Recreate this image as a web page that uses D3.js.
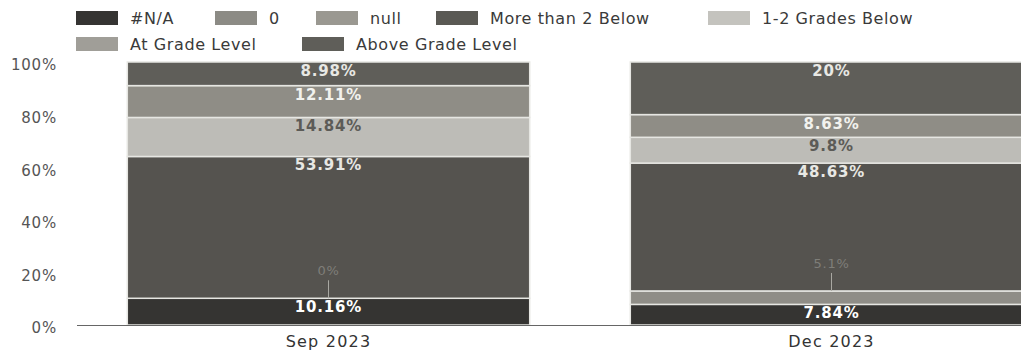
<!doctype html>
<html lang="en">
<head>
<meta charset="utf-8">
<title>Grade level by month</title>
<script src="https://d3js.org/d3.v7.min.js"></script>
<style>
  body { margin: 0; background: #fff; }
  svg text { font-family: "DejaVu Sans", Verdana, sans-serif; }
  .tick text { fill: #555; font-size: 15px; letter-spacing: 0.8px; }
  .legend text { fill: #3a3a3a; font-size: 16px; letter-spacing: 0.6px; }
  .xlab { fill: #333; font-size: 16px; letter-spacing: 1.2px; }
</style>
</head>
<body>
<svg width="1021" height="354"></svg>
<script>
// data (percent of students)
var months = ["Sep 2023", "Dec 2023"];
var seriesNames = ["#N/A", "0", "null", "More than 2 Below", "1-2 Grades Below", "At Grade Level", "Above Grade Level"];
var naVals = [10.16, 7.84];
var zeroVals = [0, 5.1];
var nullVals = [null, null];
var moreThan2Vals = [53.91, 48.63];
var oneTwoVals = [14.84, 9.8];
var atGradeVals = [12.11, 8.63];
var aboveVals = [8.98, 20];
var yTicks = [0, 20, 40, 60, 80, 100];

var seriesColors = ["#353432", "#8f8d87", "#9d9b94", "#55534f", "#bdbcb7", "#8f8d86", "#5f5e59"];
var labelColors = ["#fff", "#c4c3bd", "#c4c3bd", "#e8e8e4", "#5c5b57", "#f2f2ee", "#e8e8e4"];

var allVals = [naVals, zeroVals, nullVals, moreThan2Vals, oneTwoVals, atGradeVals, aboveVals];
var rows = months.map(function (m, i) {
  var r = { month: m };
  seriesNames.forEach(function (s, j) { r[s] = allVals[j][i]; });
  return r;
});

var svg = d3.select("svg");

var x = d3.scaleBand().domain(months).range([77, 1083]).paddingInner(0.2).paddingOuter(0.1);
var y = d3.scaleLinear().domain([0, 100]).range([325, 62]);

var stack = d3.stack().keys(seriesNames).value(function (d, k) { return d[k] || 0; });
var layers = stack(rows);

// y axis labels, no line
var yAxis = svg.append("g").attr("transform", "translate(57,3)")
  .call(d3.axisLeft(y).tickValues(yTicks).tickSize(0).tickPadding(0).tickFormat(function (d) { return d + "%"; }));
yAxis.select(".domain").remove();

// bars
var g = svg.append("g");
layers.forEach(function (layer, li) {
  g.selectAll(null).data(layer).enter().append("rect")
    .attr("x", function (d) { return x(d.data.month); })
    .attr("width", x.bandwidth())
    .attr("y", function (d) { return y(d[1]); })
    .attr("height", function (d) { return y(d[0]) - y(d[1]); })
    .attr("fill", seriesColors[li])
    .attr("stroke", "#e6e6e2")
    .attr("stroke-width", 1.5);
});

// baseline
svg.append("line").attr("x1", 77).attr("x2", 1021).attr("y1", y(0) + 0.5).attr("y2", y(0) + 0.5)
  .attr("stroke", "#666").attr("stroke-width", 1.2);

// labels
layers.forEach(function (layer, li) {
  layer.forEach(function (d) {
    var v = d.data[seriesNames[li]];
    if (v === null || v === undefined) return;
    var cx = x(d.data.month) + x.bandwidth() / 2;
    var top = y(d[1]);
    var txt = (Math.round(v * 100) / 100) + "%";
    if (y(d[0]) - top < 18) {
      // small segment: label above with leader line
      svg.append("line").attr("x1", cx).attr("x2", cx).attr("y1", top - 18).attr("y2", top)
        .attr("stroke", "#a9a8a2").attr("stroke-width", 1);
      svg.append("text").attr("x", cx).attr("y", top - 23).attr("text-anchor", "middle")
        .attr("font-size", 13).attr("letter-spacing", "0.8px").attr("fill", "#7f7e79").text(txt);
    } else {
      svg.append("text").attr("x", cx).attr("y", top + 14).attr("text-anchor", "middle")
        .attr("font-size", 15).attr("font-weight", 600).attr("letter-spacing", "0.8px")
        .attr("fill", labelColors[li]).text(txt);
    }
  });
});

// x labels
svg.selectAll(".xlab").data(months).enter().append("text")
  .attr("class", "xlab")
  .attr("x", function (d) { return x(d) + x.bandwidth() / 2; })
  .attr("y", 347).attr("text-anchor", "middle").text(function (d) { return d; });

// legend
var legendPos = [[76, 18], [215, 18], [316, 18], [436, 18], [708, 18], [76, 44], [302, 44]];
var legendColors = ["#353432", "#8c8b85", "#9a9891", "#5a5954", "#c4c3be", "#a09e98", "#5f5e59"];
var leg = svg.selectAll(".legend").data(seriesNames).enter().append("g")
  .attr("class", "legend")
  .attr("transform", function (d, i) { return "translate(" + legendPos[i][0] + "," + legendPos[i][1] + ")"; });
leg.append("rect").attr("x", 0).attr("y", -7).attr("width", 42).attr("height", 14)
  .attr("fill", function (d, i) { return legendColors[i]; });
leg.append("text").attr("x", 54).attr("y", 6).text(function (d) { return d; });
</script>
</body>
</html>
